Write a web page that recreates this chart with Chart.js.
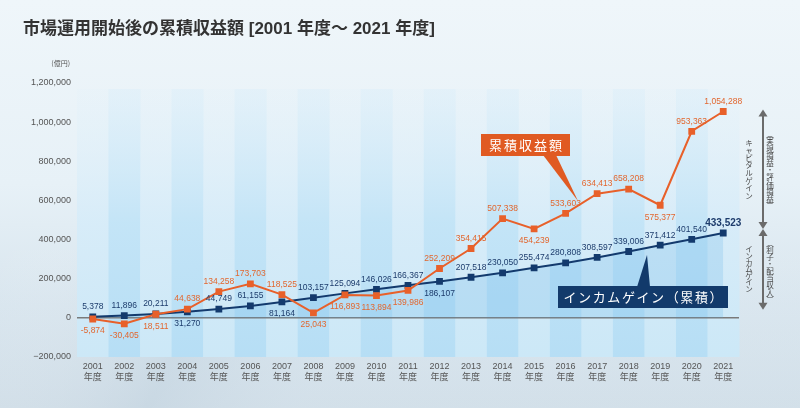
<!DOCTYPE html>
<html><head><meta charset="utf-8">
<script src="https://cdn.jsdelivr.net/npm/chart.js@4.4.1/dist/chart.umd.min.js"></script>
<style>html,body{margin:0;padding:0;overflow:hidden;background:#eef5fa}canvas{display:block}</style>
</head><body>
<canvas id="c" width="800" height="408"></canvas>
<script>
// ---- data ----
const years = ['2001','2002','2003','2004','2005','2006','2007','2008','2009','2010','2011','2012','2013','2014','2015','2016','2017','2018','2019','2020','2021'];
const yearSuffix = '年度';
const cumulativeReturn = [-5874,-30405,18511,44638,134258,173703,118525,25043,116893,113894,139986,252209,354415,507338,454239,533603,634413,658208,575377,953363,1054288];
const incomeGain = [5378,11896,20211,31270,44749,61155,81164,103157,125094,146026,166367,186107,207518,230050,255474,280808,308597,339006,371412,401540,433523];
const yTickValues = [-200000,0,200000,400000,600000,800000,1000000,1200000];
const titleText = '市場運用開始後の累積収益額 [2001 年度～ 2021 年度]';
const unitText = '(億円)';
const seriesNames = ['累積収益額','インカムゲイン（累積）'];
const capitalLabel = 'キャピタルゲイン';
const capitalNote = '（実現損益・評価損益）';
const incomeLabel = 'インカムゲイン';
const incomeNote = '（利子・配当収入）';
// which value labels sit under their point
const totalLabelsBelow = new Set([0,1,2,7,8,9,10,14,18]);
const incomeLabelsBelow = new Set([3,6,11]);

const ORANGE = '#e8602a', ORANGE_TXT = '#e2672f';
const NAVY = '#133a6d', NAVY_TXT = '#1d3c6c';
const SANS = '"Liberation Sans", Arial, "Noto Sans CJK JP", sans-serif';
const CJK = '"Noto Sans CJK JP", "Noto Sans", sans-serif';

Chart.defaults.font.family = SANS;

const fmt = v => v.toLocaleString('en-US');

const bgPlugin = {
  id: 'bg',
  beforeDraw(chart) {
    const {ctx, chartArea: ca, scales: {x}} = chart;
    const W = chart.width, H = chart.height;
    ctx.save();
    const g = ctx.createLinearGradient(0, 0, 0, H);
    g.addColorStop(0, '#eff6fa');
    g.addColorStop(0.45, '#e7f1f7');
    g.addColorStop(0.75, '#d8e5ee');
    g.addColorStop(1, '#cfdde7');
    ctx.fillStyle = g;
    ctx.fillRect(0, 0, W, H);
    const g2 = ctx.createLinearGradient(0, 250, 300, 408);
    g2.addColorStop(0, 'rgba(255,255,255,0)');
    g2.addColorStop(0.6, 'rgba(190,207,220,0.35)');
    g2.addColorStop(1, 'rgba(225,235,242,0.2)');
    ctx.fillStyle = g2;
    ctx.fillRect(0, 250, W, H - 250);
    // stripes
    const w = (ca.right - ca.left) / years.length;
    const top = ca.top + 6;
    for (let i = 0; i < years.length; i++) {
      const cx = x.getPixelForValue(i);
      const sg = ctx.createLinearGradient(0, top, 0, ca.bottom);
      if (i % 2 === 0) {
        sg.addColorStop(0, 'rgba(226,241,250,0.2)');
        sg.addColorStop(0.5, 'rgba(214,236,249,0.9)');
        sg.addColorStop(1, 'rgba(204,232,247,1)');
      } else {
        sg.addColorStop(0, 'rgba(212,236,250,0.35)');
        sg.addColorStop(0.5, 'rgba(194,228,247,0.95)');
        sg.addColorStop(1, 'rgba(182,222,245,1)');
      }
      ctx.fillStyle = sg;
      ctx.fillRect(cx - w / 2, top, w + 0.5, ca.bottom - top);
    }
    ctx.restore();
  }
};

const labelPlugin = {
  id: 'valueLabels',
  afterDatasetsDraw(chart) {
    const ctx = chart.ctx;
    ctx.save();
    ctx.textAlign = 'center';
    ctx.textBaseline = 'middle';
    const m0 = chart.getDatasetMeta(0), m1 = chart.getDatasetMeta(1);
    ctx.font = '8.5px ' + SANS;
    ctx.fillStyle = ORANGE_TXT;
    cumulativeReturn.forEach((v, i) => {
      const p = m0.data[i];
      ctx.fillText(fmt(v), p.x, p.y + (totalLabelsBelow.has(i) ? 12 : -10));
    });
    ctx.fillStyle = NAVY_TXT;
    incomeGain.forEach((v, i) => {
      const p = m1.data[i];
      const last = i === incomeGain.length - 1;
      ctx.font = last ? 'bold 10px ' + SANS : '8.5px ' + SANS;
      ctx.fillText(fmt(v), p.x, p.y + (incomeLabelsBelow.has(i) ? 12 : -10));
    });
    ctx.restore();
  }
};

function spaced(ctx, str, cx, cy, spacing) {
  const widths = [...str].map(c => ctx.measureText(c).width);
  const total = widths.reduce((a, b) => a + b, 0) + spacing * (widths.length - 1);
  let xx = cx - total / 2;
  ctx.textAlign = 'left';
  [...str].forEach((c, i) => { ctx.fillText(c, xx, cy); xx += widths[i] + spacing; });
}
function vtext(ctx, str, x, cy, step) {
  const map = {'（': '︵', '）': '︶'};
  const chars = [...str];
  const y0 = cy - step * (chars.length - 1) / 2;
  ctx.textAlign = 'center';
  ctx.textBaseline = 'middle';
  chars.forEach((c, i) => ctx.fillText(map[c] || c, x, y0 + i * step));
}
function head(ctx, x, tip, dir) {
  ctx.beginPath();
  ctx.moveTo(x, tip);
  ctx.lineTo(x - 4.5, tip - dir * 7);
  ctx.lineTo(x + 4.5, tip - dir * 7);
  ctx.closePath();
  ctx.fill();
}

const annotPlugin = {
  id: 'annot',
  afterDraw(chart) {
    const {ctx, scales: {y}} = chart;
    ctx.save();
    // unit
    ctx.font = '7px ' + CJK;
    ctx.fillStyle = '#555';
    ctx.textAlign = 'right';
    ctx.textBaseline = 'middle';
    ctx.fillText(unitText, 70, 63);

    // orange callout
    ctx.fillStyle = '#e05a22';
    ctx.beginPath();
    ctx.moveTo(543, 155); ctx.lineTo(556, 155); ctx.lineTo(578, 201); ctx.closePath(); ctx.fill();
    ctx.fillRect(481, 134, 89, 22);
    ctx.fillStyle = '#fff';
    ctx.font = '13px ' + CJK;
    ctx.textBaseline = 'middle';
    spaced(ctx, chart.data.datasets[0].label, 525.5, 145.5, 2);

    // navy callout
    ctx.fillStyle = '#123a6b';
    ctx.beginPath();
    ctx.moveTo(637, 287); ctx.lineTo(650, 287); ctx.lineTo(647, 255); ctx.closePath(); ctx.fill();
    ctx.fillRect(558, 286, 170, 22);
    ctx.fillStyle = '#fff';
    ctx.font = '13px ' + CJK;
    spaced(ctx, chart.data.datasets[1].label, 643, 297.5, 1.6);

    // side arrows
    const ax = 763;
    const topY = y.getPixelForValue(cumulativeReturn[cumulativeReturn.length - 1]) - 2;
    const midY = y.getPixelForValue(incomeGain[incomeGain.length - 1]) - 4;
    const botY = y.getPixelForValue(0) - 8;
    ctx.strokeStyle = '#6b6b6b';
    ctx.fillStyle = '#6b6b6b';
    ctx.lineWidth = 2;
    ctx.beginPath();
    ctx.moveTo(ax, topY + 5); ctx.lineTo(ax, midY - 5);
    ctx.moveTo(ax, midY + 5); ctx.lineTo(ax, botY - 5);
    ctx.stroke();
    head(ctx, ax, topY, -1);
    head(ctx, ax, midY, 1);
    head(ctx, ax, midY, -1);
    head(ctx, ax, botY, 1);

    ctx.fillStyle = '#4a4a4a';
    ctx.font = '7.5px ' + CJK;
    const upC = (topY + midY) / 2, loC = (midY + botY) / 2;
    vtext(ctx, capitalLabel, 749, upC, 7.6);
    vtext(ctx, capitalNote, 770, upC + 1, 7.2);
    vtext(ctx, incomeLabel, 749, loC, 6.6);
    vtext(ctx, incomeNote, 770, loC + 2, 7.1);
    ctx.restore();
  }
};

new Chart(document.getElementById('c'), {
  type: 'line',
  data: {
    labels: years.map(yr => [yr, yearSuffix]),
    datasets: [
      {
        label: seriesNames[0],
        data: cumulativeReturn,
        borderColor: ORANGE,
        backgroundColor: ORANGE,
        borderWidth: 2,
        pointStyle: 'rect',
        pointRadius: 4.8,
        pointBackgroundColor: ORANGE,
        pointBorderWidth: 0,
        tension: 0,
        fill: false
      },
      {
        label: seriesNames[1],
        data: incomeGain,
        borderColor: NAVY,
        backgroundColor: 'rgba(95,178,230,0.22)',
        borderWidth: 2,
        pointStyle: 'rect',
        pointRadius: 4.8,
        pointBackgroundColor: NAVY,
        pointBorderWidth: 0,
        tension: 0,
        fill: 'origin'
      }
    ]
  },
  options: {
    responsive: false,
    animation: false,
    devicePixelRatio: 1,
    layout: {padding: {left: 23, right: 61, top: 0, bottom: 0}},
    plugins: {
      legend: {display: false},
      tooltip: {enabled: false},
      title: {
        display: true,
        text: titleText,
        align: 'start',
        color: '#333',
        font: {size: 17, weight: 'bold', family: '"Liberation Sans", "Noto Sans CJK JP", sans-serif', lineHeight: 1.2},
        padding: {top: 19.3, bottom: 43.3}
      }
    },
    scales: {
      x: {
        offset: true,
        grid: {display: false, drawTicks: false},
        border: {display: false},
        ticks: {color: '#555', font: {size: 9, lineHeight: 1.25}, padding: 4, maxRotation: 0, autoSkip: false},
        afterFit(s) { s.height = 51; }
      },
      y: {
        min: -200000,
        max: 1200000,
        afterBuildTicks(s) { s.ticks = yTickValues.map(v => ({value: v})); },
        grid: {
          drawTicks: false,
          lineWidth: 1.5,
          color: c => (c.tick && c.tick.value === 0) ? '#7a7a7a' : 'rgba(0,0,0,0)'
        },
        border: {display: false},
        ticks: {
          color: '#555',
          font: {size: 9},
          padding: 6,
          callback: v => v < 0 ? '−' + fmt(Math.abs(v)) : fmt(v)
        },
        afterFit(s) { s.width = 54; }
      }
    }
  },
  plugins: [bgPlugin, labelPlugin, annotPlugin]
});
</script>
</body></html>
